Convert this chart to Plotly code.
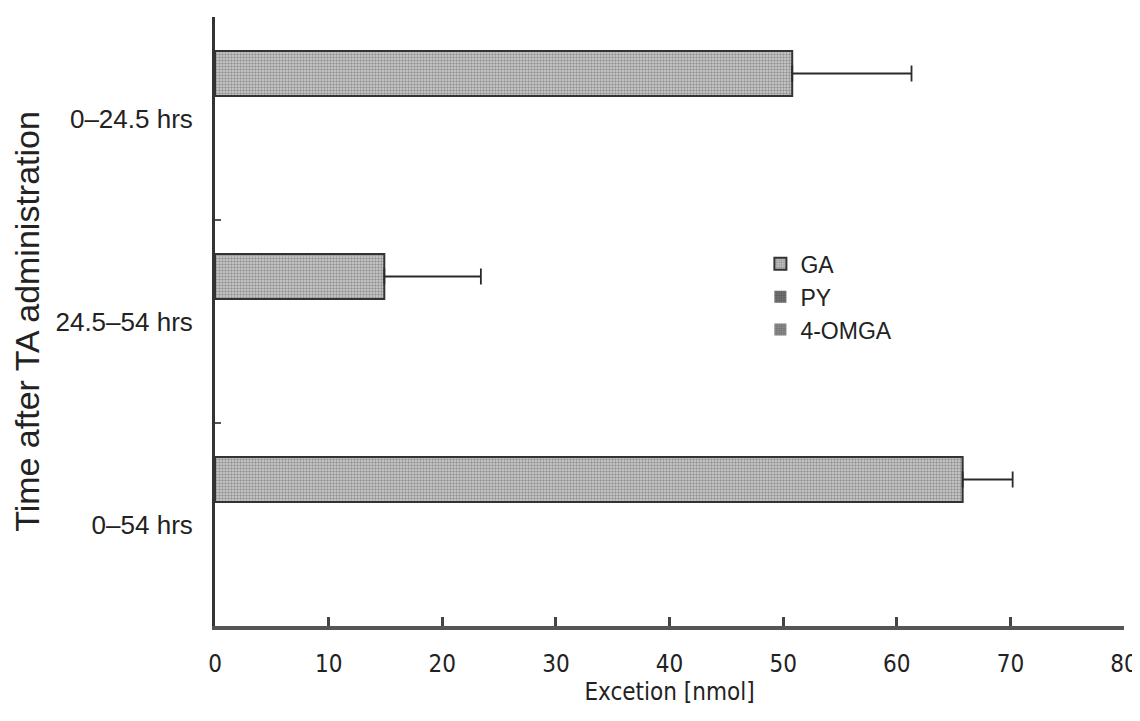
import plotly.graph_objects as go

categories = ["0–24.5 hrs", "24.5–54 hrs", "0–54 hrs"]
ga_values = [50.8, 14.9, 65.8]
ga_errors = [10.5, 8.5, 4.4]
py_values = [0, 0, 0]
omga_values = [0, 0, 0]
x_ticks = [0, 10, 20, 30, 40, 50, 60, 70, 80]

fig = go.Figure()

def bar(name, values, errors, bg, fg, sol, lw):
    kw = dict(
        name=name, y=categories, x=values, orientation="h",
        marker=dict(color=bg, line=dict(color="#333333", width=lw),
                    pattern=dict(shape=".", fgcolor=fg, bgcolor=bg, size=3, solidity=sol)),
    )
    if errors is not None:
        kw["error_x"] = dict(type="data", array=errors, symmetric=False, arrayminus=[0]*len(errors),
                             color="#2a2a2a", thickness=1.8, width=8)
    fig.add_trace(go.Bar(**kw))

bar("GA", ga_values, ga_errors, "#d0d0d0", "#555555", 0.5, 2)
bar("PY", py_values, None, "#7a7a7a", "#3a3a3a", 0.5, 0)
bar("4-OMGA", omga_values, None, "#949494", "#454545", 0.5, 0)

base_font = "Liberation Sans, Arial, sans-serif"
narrow_font = "Liberation Sans Narrow, DejaVu Sans Condensed, Arial Narrow, sans-serif"

fig.update_layout(
    width=1132, height=698,
    margin=dict(l=207, r=16, t=9, b=80),
    paper_bgcolor="white", plot_bgcolor="white",
    barmode="group", bargap=0.335, bargroupgap=0,
    font=dict(family=base_font, color="#222222"),
    showlegend=True,
    legend=dict(x=0.6, y=0.63, xanchor="left", yanchor="top", traceorder="normal",
                font=dict(size=23, family=base_font, color="#222"),
                bgcolor="rgba(0,0,0,0)", itemwidth=30, tracegroupgap=0),
    xaxis=dict(range=[0, 80], tickvals=x_ticks, ticktext=[str(v) for v in x_ticks],
               showgrid=False, zeroline=False, showline=True, linecolor="#555555", linewidth=3.5,
               ticks="inside", ticklen=9, tickwidth=2.5, tickcolor="#444444",
               tickfont=dict(size=24, family=narrow_font, color="#222"),
               ticklabelstandoff=13, automargin=False, ticklabeloverflow="allow",
               title=dict(text="Excetion [nmol]", font=dict(size=24, family=narrow_font, color="#222"),
                          standoff=4),
               fixedrange=True),
    yaxis=dict(autorange="reversed", showgrid=False, zeroline=False, showline=True,
               linecolor="#333333", linewidth=3, ticks="inside", tickson="boundaries",
               ticklen=6, tickwidth=2, tickcolor="#555555",
               tickfont=dict(size=26, family=base_font, color="#222"),
               ticklabelstandoff=14, automargin=False,
               title=dict(text="Time after TA administration",
                          font=dict(size=34, family=base_font, color="#222"), standoff=20),
               fixedrange=True),
)

fig.write_html("out.html")
